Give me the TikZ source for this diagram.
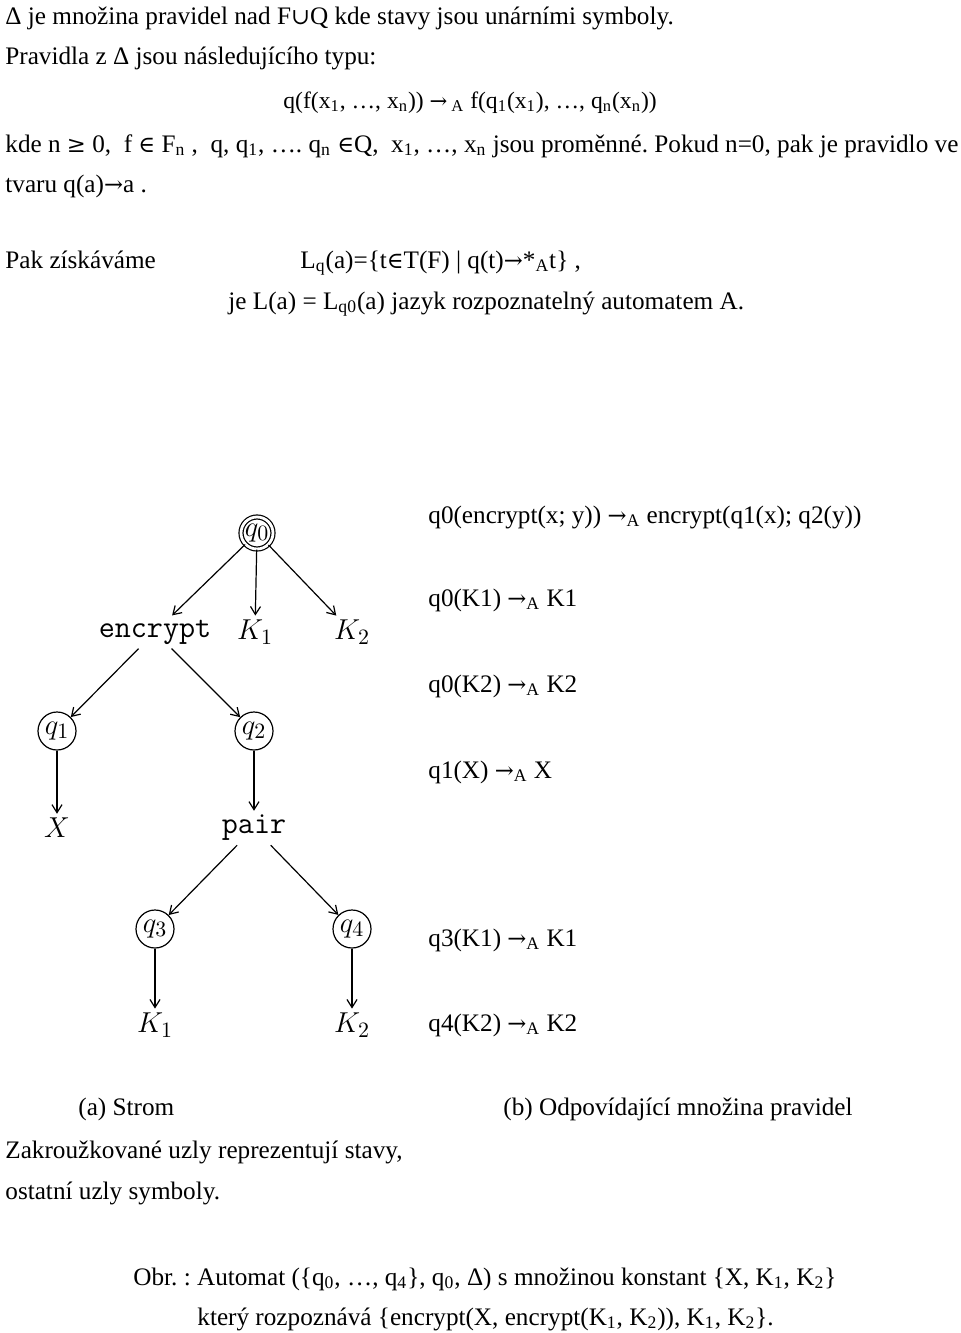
\documentclass[tikz,border=0pt]{standalone}
\usepackage{fontspec}
\setmainfont{Liberation Serif}
\newfontfamily\symf{DejaVu Serif}[Scale=0.9]
\usepackage{amsmath,amssymb}
\usetikzlibrary{arrows.meta}
\frenchspacing
\newcommand{\ix}[1]{\textsubscript{#1}}
\newcommand{\elt}{{\symf ∈}}
\newcommand{\rar}{{\symf →}}
\tikzset{
    txt/.style={anchor=base west, inner sep=0pt, font=\fontsize{12.6}{14}\selectfont},
    lbl/.style={inner sep=2pt, font=\fontsize{15.6}{18}\selectfont},
    state/.style={lbl, circle, draw, semithick, minimum size=19pt, inner sep=0pt},
    edge/.style={semithick, -{Straight Barb[length=4pt,width=5pt]}}
}
\begin{document}
\begin{tikzpicture}[x=0.5pt, y=-0.5pt]

    \useasboundingbox (0,0) rectangle (960,1333);

    \node[txt] (t1) at (5, 25) {Δ je množina pravidel nad F{\symf ∪}Q kde stavy jsou unárními symboly.};
    \node[txt] (t2) at (5, 64) {Pravidla z Δ jsou následujícího typu:};
    \node[txt, font=\fontsize{11.8}{14}\selectfont] (t3) at (283, 108) {q(f(x\ix{1}, …, x\ix{n})) \rar\,\ix{A} f(q\ix{1}(x\ix{1}), …, q\ix{n}(x\ix{n}))};
    \node[txt] (t4) at (5, 152) {kde n {\symf ≥} 0,~~f \elt\ F\ix{n} ,~~q, q\ix{1}, …. q\ix{n} \elt Q,~~x\ix{1}, …, x\ix{n} jsou proměnné. Pokud n=0, pak je pravidlo ve};
    \node[txt] (t5) at (5, 192) {tvaru q(a)\rar a .};
    \node[txt] (t6) at (5, 268) {Pak získáváme};
    \node[txt] (t7) at (300, 268) {L\ix{q}(a)=\{t\elt T(F) | q(t)\rar *\ix{A}t\} ,};
    \node[txt] (t8) at (228, 309) {je L(a) = L\ix{q0}(a) jazyk rozpoznatelný automatem A.};

    \node[state, double, double distance=1.4pt, minimum size=16pt] (q0) at (257, 533) {$q_0$};
    \node[lbl] (enc) at (155, 632) {\texttt{encrypt}};
    \node[lbl] (ka) at (255, 632) {$K_1$};
    \node[lbl] (kb) at (352, 632) {$K_2$};
    \node[state] (q1) at (57, 731) {$q_1$};
    \node[state] (q2) at (254, 731) {$q_2$};
    \node[lbl] (x) at (57, 828) {$X$};
    \node[lbl] (pr) at (254, 828) {\texttt{pair}};
    \node[state] (q3) at (155, 929) {$q_3$};
    \node[state] (q4) at (352, 929) {$q_4$};
    \node[lbl] (kc) at (155, 1025) {$K_1$};
    \node[lbl] (kd) at (352, 1025) {$K_2$};

    \draw[edge] (q0) -- (enc);
    \draw[edge] (q0) -- (ka);
    \draw[edge] (q0) -- (kb);
    \draw[edge] (enc) -- (q1);
    \draw[edge] (enc) -- (q2);
    \draw[edge] (q1) -- (x);
    \draw[edge] (q2) -- (pr);
    \draw[edge] (pr) -- (q3);
    \draw[edge] (pr) -- (q4);
    \draw[edge] (q3) -- (kc);
    \draw[edge] (q4) -- (kd);

    \node[txt] (r1) at (428, 523) {q0(encrypt(x; y)) \rar\ix{A} encrypt(q1(x); q2(y))};
    \node[txt] (r2) at (428, 606) {q0(K1) \rar\ix{A} K1};
    \node[txt] (r3) at (428, 692) {q0(K2) \rar\ix{A} K2};
    \node[txt] (r4) at (428, 778) {q1(X) \rar\ix{A} X};
    \node[txt] (r5) at (428, 946) {q3(K1) \rar\ix{A} K1};
    \node[txt] (r6) at (428, 1031) {q4(K2) \rar\ix{A} K2};

    \node[txt] (ca) at (78, 1115) {(a) Strom};
    \node[txt] (cb) at (503, 1115) {(b) Odpovídající množina pravidel};
    \node[txt] (n1) at (5, 1158) {Zakroužkované uzly reprezentují stavy,};
    \node[txt] (n2) at (5, 1199) {ostatní uzly symboly.};
    \node[txt] (o1) at (133, 1285) {Obr. : Automat (\{q\ix{0}, …, q\ix{4}\}, q\ix{0}, Δ) s množinou konstant \{X, K\ix{1}, K\ix{2}\}};
    \node[txt] (o2) at (197, 1325) {který rozpoznává \{encrypt(X, encrypt(K\ix{1}, K\ix{2})), K\ix{1}, K\ix{2}\}.};

\end{tikzpicture}
\end{document}
